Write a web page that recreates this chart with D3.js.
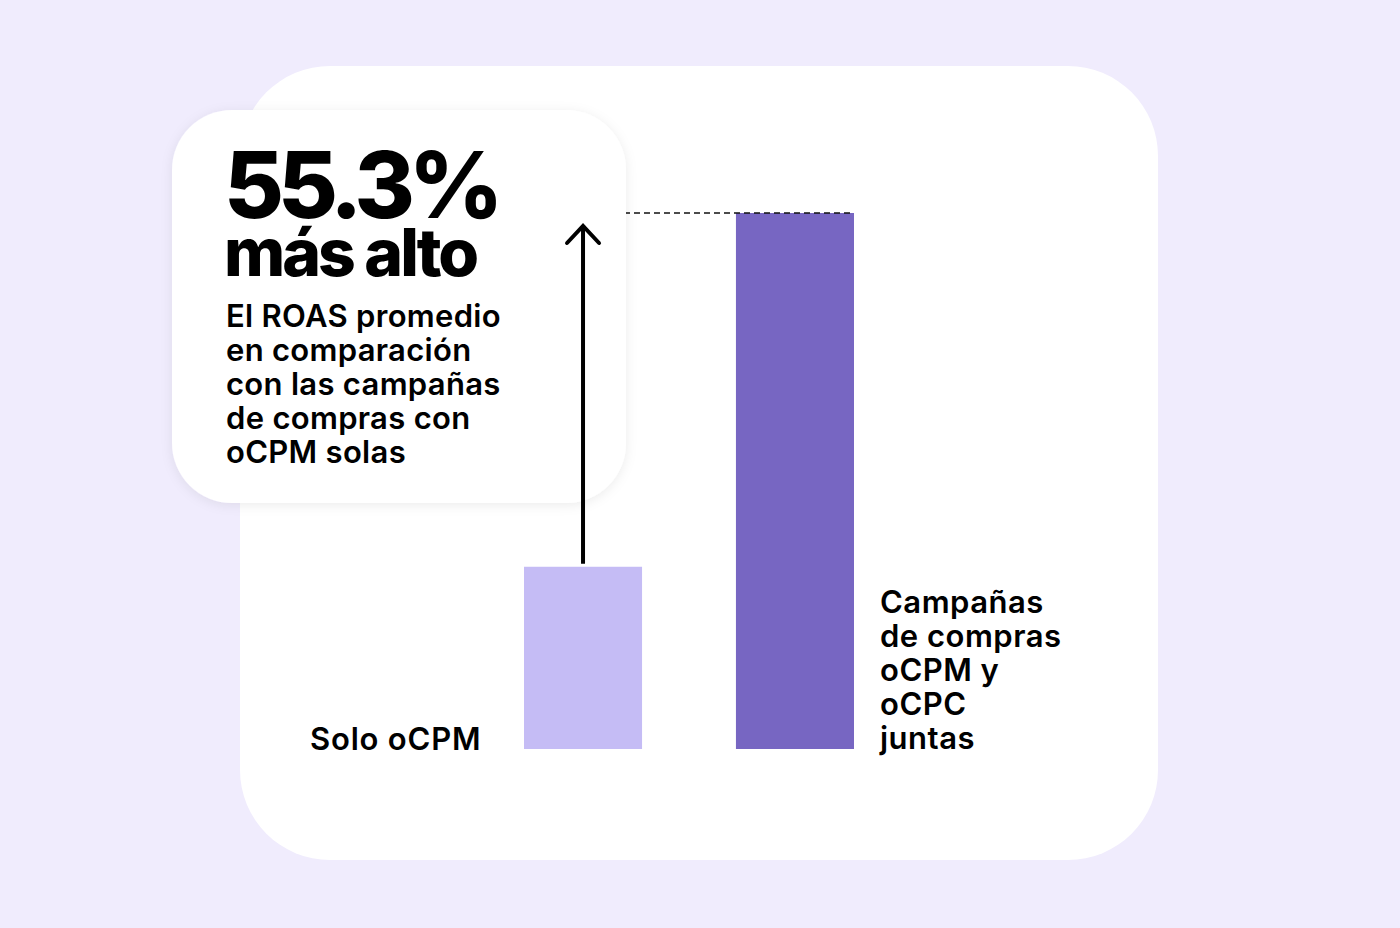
<!DOCTYPE html>
<html><head><meta charset="utf-8">
<script src="https://cdn.jsdelivr.net/npm/d3@7"></script>
<style>body{margin:0;background:#f0ecfd;font-family:Inter,"Noto Sans",sans-serif;}</style>
</head><body>
<svg id="chart" width="1400" height="928"></svg>
<script>
const categories = ["Solo oCPM", "Campañas de compras oCPM y oCPC juntas"];
const values = [34, 100];
const colors = ["#c5bcf5", "#7766c2"];
const headline = ["55.3%", "más alto"];
const blurb = ["El ROAS promedio", "en comparación", "con las campañas", "de compras con", "oCPM solas"];
const rightLabel = ["Campañas", "de compras", "oCPM y", "oCPC", "juntas"];

const svg = d3.select("#chart");
svg.append("rect").attr("width", 1400).attr("height", 928).attr("fill", "#f0ecfd");
svg.append("rect").attr("x", 240).attr("y", 66).attr("width", 918).attr("height", 794)
    .attr("rx", 90).attr("fill", "#fff");

const x = d3.scaleBand().domain(categories).range([524, 854]).paddingInner(0.443).paddingOuter(0);
const y = d3.scaleLinear().domain([0, 100]).range([749, 213]);

svg.selectAll(".bar").data(categories).join("rect")
    .attr("x", d => x(d)).attr("y", (d, i) => y(values[i]))
    .attr("width", x.bandwidth()).attr("height", (d, i) => y(0) - y(values[i]))
    .attr("fill", (d, i) => colors[i]);

// dashed reference line at top of taller bar
svg.append("line").attr("x1", x(categories[0])).attr("x2", x(categories[1]) + x.bandwidth())
    .attr("y1", y(values[1])).attr("y2", y(values[1]))
    .attr("stroke", "#111").attr("stroke-width", 1.5).attr("stroke-dasharray", "6,4");

// callout box with shadow
const defs = svg.append("defs");
const f = defs.append("filter").attr("id", "sh").attr("x", "-20%").attr("y", "-20%").attr("width", "140%").attr("height", "140%");
f.append("feDropShadow").attr("dx", 0).attr("dy", 2).attr("stdDeviation", 6).attr("flood-color", "#000").attr("flood-opacity", 0.08);
svg.append("rect").attr("x", 172).attr("y", 110).attr("width", 454).attr("height", 393)
    .attr("rx", 60).attr("fill", "#fff").attr("filter", "url(#sh)");

// arrow
const ax = x(categories[0]) + x.bandwidth() / 2;
svg.append("line").attr("x1", ax).attr("x2", ax).attr("y1", y(values[0]) - 3).attr("y2", y(values[1]) + 12)
    .attr("stroke", "#000").attr("stroke-width", 4);
svg.append("path").attr("d", `M${ax - 16},${y(values[1]) + 30} L${ax},${y(values[1]) + 13} L${ax + 16},${y(values[1]) + 30}`)
    .attr("fill", "none").attr("stroke", "#000").attr("stroke-width", 4).attr("stroke-linecap", "round");

svg.selectAll(".head").data(headline).join("text")
    .attr("x", 224).attr("y", (d, i) => i ? 276 : 218)
    .attr("font-size", (d, i) => i ? 66 : 92).attr("font-weight", 800)
    .attr("letter-spacing", (d, i) => i ? -3 : -6)
    .attr("fill", "#000").text(d => d);

svg.selectAll(".blurb").data(blurb).join("text")
    .attr("x", 226).attr("y", (d, i) => 327 + i * 34)
    .attr("font-size", 31).attr("font-weight", 600).attr("letter-spacing", 0.3)
    .attr("fill", "#000").text(d => d);

svg.append("text").attr("x", 310).attr("y", 750).attr("font-size", 31).attr("font-weight", 600)
    .attr("letter-spacing", 0.8).text(categories[0]);
svg.selectAll(".rl").data(rightLabel).join("text")
    .attr("x", 880).attr("y", (d, i) => 613 + i * 34)
    .attr("font-size", 31).attr("font-weight", 600).attr("letter-spacing", 0.5).text(d => d);
</script>
</body></html>
